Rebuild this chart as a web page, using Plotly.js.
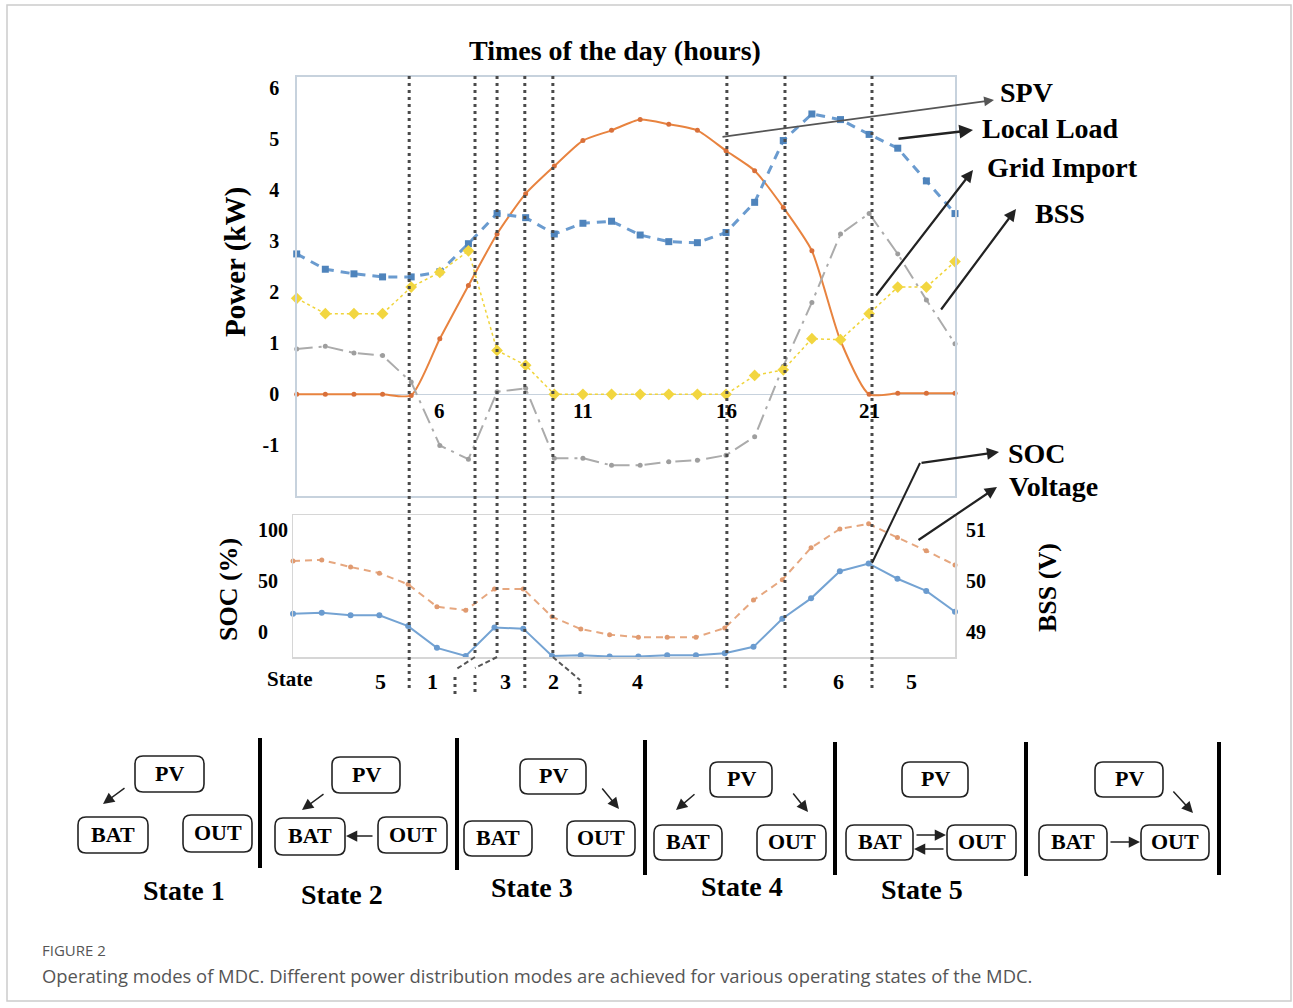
<!DOCTYPE html>
<html>
<head>
<meta charset="utf-8">
<script src="https://cdn.plot.ly/plotly-3.0.1.min.js"></script>
<style>html,body{margin:0;padding:0;background:#fff;}#chart{width:1293px;height:1008px;}</style>
</head>
<body>
<div id="chart"></div>
<script>
// ---------------- DATA ----------------
const hours = [1,2,3,4,5,6,7,8,9,10,11,12,13,14,15,16,17,18,19,20,21,22,23,24];
const spv = [0,0,0,0,-0.02,1.09,2.13,3.14,3.93,4.47,4.97,5.17,5.38,5.29,5.17,4.77,4.38,3.66,2.81,1.05,0,0.02,0.02,0.02];
const localLoad = [2.75,2.45,2.36,2.30,2.30,2.40,2.95,3.54,3.46,3.14,3.35,3.39,3.12,2.99,2.97,3.17,3.76,4.97,5.49,5.38,5.09,4.82,4.18,3.54];
const gridImport = [0.89,0.94,0.81,0.76,0.24,-1.0,-1.27,0.05,0.12,-1.25,-1.25,-1.39,-1.39,-1.32,-1.29,-1.19,-0.83,0.55,1.8,3.14,3.54,2.75,1.85,0.99];
const bss = [1.88,1.58,1.58,1.58,2.10,2.39,2.81,0.86,0.57,0,0,0,0,0,0,0,0.37,0.48,1.09,1.07,1.58,2.10,2.10,2.60];
const soc = [17.6,18.6,16,16,5.4,-16,-24,3.9,2.9,-24,-23.3,-24.5,-24.5,-23.3,-23.3,-21.3,-15,12.7,32.7,59.4,67,52,40,19.6];
const voltage = [50.39,50.41,50.27,50.15,49.93,49.49,49.42,49.84,49.84,49.29,49.05,48.94,48.89,48.89,48.89,49.07,49.62,50.02,50.65,51.02,51.12,50.85,50.59,50.31];

const powerTicks = [-1,0,1,2,3,4,5,6];
const hourLabels = [6,11,16,21];
const socTicks = [0,50,100];
const voltTicks = [49,50,51];
const stateBoundaries = [4.93,7.23,8.0,8.97,9.95,16.03,18.06,21.1];
const stateSequence = ['5','1','3','2','4','6','5'];
const seriesNames = ['SPV','Local Load','Grid Import','BSS'];
const lowerNames = ['SOC','Voltage'];

// ---------------- LAYOUT HELPERS ----------------
const W = 1293, H = 1008;
const px = x => x / W;
const py = y => 1 - y / H;
const X0 = 296.7, X1 = 955;
const hx = h => X0 + (h - 1) * (X1 - X0) / 23;   // hour -> pixel (same scale as axis)
const serif = 'Liberation Serif, Times New Roman, serif';
const bold = (size, color) => ({family: serif, size: size, color: color || '#000', weight: 'bold'});

const traces = [
  {x: hours, y: spv, name: seriesNames[0], xaxis: 'x', yaxis: 'y', mode: 'lines+markers', cliponaxis: false,
   line: {color: '#E8833F', width: 2, shape: 'spline', smoothing: 0.6}, marker: {size: 5, color: '#D9703A'}},
  {x: hours, y: localLoad, name: seriesNames[1], xaxis: 'x', yaxis: 'y', mode: 'lines+markers', cliponaxis: false,
   line: {color: '#6A9BCF', width: 3, dash: '9px,7px'}, marker: {symbol: 'square', size: 7, color: '#4F84BC'}},
  {x: hours, y: gridImport, name: seriesNames[2], xaxis: 'x', yaxis: 'y', mode: 'lines+markers', cliponaxis: false,
   line: {color: '#ABABAB', width: 2, dash: '16px,6px,3px,6px'}, marker: {size: 5, color: '#9E9E9E'}},
  {x: hours, y: bss, name: seriesNames[3], xaxis: 'x', yaxis: 'y', mode: 'lines+markers', cliponaxis: false,
   line: {color: '#F0D43A', width: 1.5, dash: 'dot'}, marker: {symbol: 'diamond', size: 9, color: '#F2D640'}},
  {x: hours, y: soc, name: lowerNames[0], xaxis: 'x2', yaxis: 'y2', mode: 'lines+markers', cliponaxis: false,
   line: {color: '#74A3D3', width: 2}, marker: {size: 6, color: '#6A9BCF'}},
  {x: hours, y: voltage, name: lowerNames[1], xaxis: 'x2', yaxis: 'y3', mode: 'lines+markers', cliponaxis: false,
   line: {color: '#E6A77F', width: 2, dash: '7px,5px'}, marker: {size: 5, color: '#E09A70'}}
];

const shapes = [];
const annotations = [];

// outer border
shapes.push({type: 'rect', xref: 'paper', yref: 'paper', x0: px(7), x1: px(1291), y0: py(5), y1: py(1001),
  line: {color: '#cccccc', width: 1.5}});

// state boundary dotted lines
const dotted = {color: '#4a4a4a', width: 3, dash: '3px,4px'};
const slanted = {7.23: [455, 670, 677], 8.0: [475, 668, 675], 9.95: [580, 680, 684]};
stateBoundaries.forEach(h => {
  const x = px(hx(h));
  if (slanted[h]) {
    const s = slanted[h];
    shapes.push({type: 'line', xref: 'paper', yref: 'paper', x0: x, x1: x, y0: py(76), y1: py(657), line: dotted});
    shapes.push({type: 'line', xref: 'paper', yref: 'paper', x0: x, x1: px(s[0]), y0: py(657), y1: py(s[1]),
      line: {color: '#555', width: 2, dash: '5px,3px'}});
    shapes.push({type: 'line', xref: 'paper', yref: 'paper', x0: px(s[0]), x1: px(s[0]), y0: py(s[2]), y1: py(696), line: dotted});
  } else {
    shapes.push({type: 'line', xref: 'paper', yref: 'paper', x0: x, x1: x, y0: py(76), y1: py(692), line: dotted});
  }
});

// hour labels on top chart
hourLabels.forEach(h => annotations.push({x: h, y: -0.33, xref: 'x', yref: 'y', text: String(h), showarrow: false,
  font: bold(21), xanchor: 'center', yanchor: 'middle'}));

// SOC tick labels (left aligned as in original)
socTicks.forEach(t => annotations.push({x: px(256), xref: 'paper', y: t, yref: 'y2', text: String(t), showarrow: false,
  xanchor: 'left', yanchor: 'middle', font: bold(20)}));

// titles
annotations.push({x: px(615), y: py(50), xref: 'paper', yref: 'paper', text: 'Times of the day (hours)', showarrow: false, font: bold(28)});
annotations.push({x: px(236), y: py(262), xref: 'paper', yref: 'paper', text: 'Power (kW)', textangle: -90, showarrow: false, font: bold(29)});
annotations.push({x: px(228), y: py(590), xref: 'paper', yref: 'paper', text: 'SOC (%)', textangle: -90, showarrow: false, font: bold(26)});
annotations.push({x: px(1047), y: py(588), xref: 'paper', yref: 'paper', text: 'BSS (V)', textangle: -90, showarrow: false, font: bold(26)});

// series labels with arrows
const lab = (text, x, y) => annotations.push({x: px(x), y: py(y), xref: 'paper', yref: 'paper', text: text,
  showarrow: false, xanchor: 'left', yanchor: 'middle', font: bold(28)});
lab(seriesNames[0], 998, 92);
lab(seriesNames[1], 980, 128);
lab(seriesNames[2], 985, 168);
lab(seriesNames[3], 1033, 213);
lab(lowerNames[0], 1006, 454);
lab(lowerNames[1], 1007, 486);

const arrow = (tx, ty, fx, fy, w, col, size) => annotations.push({x: px(tx), y: py(ty), xref: 'paper', yref: 'paper',
  ax: fx - tx, ay: fy - ty, axref: 'pixel', ayref: 'pixel', text: '', showarrow: true, arrowhead: 2,
  arrowsize: size || 1.1, arrowwidth: w, arrowcolor: col || '#222'});
arrow(994, 100, 721, 137, 1.8, '#555');
arrow(973, 130, 897, 139, 2.5, '#222');
arrow(973, 170, 875, 297, 2.2, '#222');
arrow(1016, 209, 940, 311, 2.2, '#222');
shapes.push({type: 'line', xref: 'paper', yref: 'paper', x0: px(872), y0: py(563), x1: px(920), y1: py(463), line: {color: '#222', width: 2}});
arrow(999, 452, 920, 463, 2.2, '#222');
arrow(997, 487, 917, 541, 2.2, '#222');

// state row labels
annotations.push({x: px(290), y: py(679), xref: 'paper', yref: 'paper', text: 'State', showarrow: false, font: bold(21)});
const stateLabelX = [380, 432, 505, 553, 637, 838, 911];
stateSequence.forEach((s, i) => annotations.push({x: px(stateLabelX[i]), y: py(681), xref: 'paper', yref: 'paper',
  text: s, showarrow: false, font: bold(22)}));

// ---------------- STATE DIAGRAMS ----------------
function rbox(x0, y0, x1, y1, r) {
  const p = (x, y) => px(x) + ' ' + py(y);
  return 'M ' + p(x0 + r, y0) + ' L ' + p(x1 - r, y0) + ' Q ' + p(x1, y0) + ' ' + p(x1, y0 + r) +
    ' L ' + p(x1, y1 - r) + ' Q ' + p(x1, y1) + ' ' + p(x1 - r, y1) +
    ' L ' + p(x0 + r, y1) + ' Q ' + p(x0, y1) + ' ' + p(x0, y1 - r) +
    ' L ' + p(x0, y0 + r) + ' Q ' + p(x0, y0) + ' ' + p(x0 + r, y0) + ' Z';
}
const diag = [
  {pv: [135, 756, 204, 792], bat: [78, 817, 148, 853], out: [183, 815, 252, 852], label: 'State 1', lx: 184, ly: 890,
   arrows: [[103, 804, 126, 787]]},
  {pv: [332, 757, 400, 793], bat: [275, 818, 345, 855], out: [378, 817, 447, 853], label: 'State 2', lx: 342, ly: 894,
   arrows: [[302, 810, 325, 793], [346, 836, 374, 836]]},
  {pv: [520, 759, 586, 794], bat: [464, 821, 532, 856], out: [567, 821, 635, 856], label: 'State 3', lx: 532, ly: 887,
   arrows: [[619, 809, 601, 787]]},
  {pv: [710, 762, 772, 797], bat: [654, 825, 722, 860], out: [757, 825, 826, 860], label: 'State 4', lx: 742, ly: 886,
   arrows: [[676, 810, 696, 793], [808, 812, 792, 792]]},
  {pv: [902, 762, 968, 797], bat: [846, 825, 913, 860], out: [947, 825, 1016, 860], label: 'State 5', lx: 922, ly: 889,
   arrows: [[946, 835, 915, 835], [914, 849, 945, 849]]},
  {pv: [1095, 762, 1163, 797], bat: [1039, 825, 1107, 860], out: [1141, 825, 1209, 860], label: '', lx: 0, ly: 0,
   arrows: [[1193, 813, 1172, 790], [1140, 842, 1109, 842]]}
];
const bars = [[260, 738, 868], [457, 738, 870], [645, 740, 875], [835, 742, 875], [1026, 742, 876], [1219, 742, 875]];
bars.forEach(b => shapes.push({type: 'line', xref: 'paper', yref: 'paper', x0: px(b[0]), x1: px(b[0]), y0: py(b[1]), y1: py(b[2]),
  line: {color: '#000', width: 4}}));
diag.forEach(d => {
  [['pv', 'PV'], ['bat', 'BAT'], ['out', 'OUT']].forEach(k => {
    const b = d[k[0]];
    shapes.push({type: 'path', xref: 'paper', yref: 'paper', path: rbox(b[0], b[1], b[2], b[3], 8), line: {color: '#222', width: 1.6}});
    annotations.push({x: px((b[0] + b[2]) / 2), y: py((b[1] + b[3]) / 2 - 1), xref: 'paper', yref: 'paper', text: k[1],
      showarrow: false, font: bold(22)});
  });
  d.arrows.forEach(a => arrow(a[0], a[1], a[2], a[3], 1.5, '#222', 1.5));
  if (d.label) annotations.push({x: px(d.lx), y: py(d.ly), xref: 'paper', yref: 'paper', text: d.label, showarrow: false, font: bold(28)});
});

// caption
annotations.push({x: px(40), y: py(950), xref: 'paper', yref: 'paper', xanchor: 'left', text: 'FIGURE 2', showarrow: false,
  font: {family: 'Open Sans, Noto Sans, sans-serif', size: 15, color: '#555'}});
annotations.push({x: px(40), y: py(975), xref: 'paper', yref: 'paper', xanchor: 'left',
  text: 'Operating modes of MDC. Different power distribution modes are achieved for various operating states of the MDC.',
  showarrow: false, font: {family: 'Open Sans, Noto Sans, sans-serif', size: 18.4, color: '#555'}});

annotations.forEach(a => {
  if (!a.xanchor) a.xanchor = 'center';
  if (!a.yanchor) a.yanchor = 'middle';
});

const frameBlue = '#C7D2DD';
const layout = {
  width: W, height: H, margin: {l: 0, r: 0, t: 0, b: 0}, showlegend: false,
  paper_bgcolor: '#fff', plot_bgcolor: 'rgba(0,0,0,0)',
  font: {family: serif, color: '#000'},
  xaxis: {domain: [px(X0), px(X1)], range: [1, 24], anchor: 'y', showticklabels: false, showgrid: false, zeroline: false,
    showline: true, mirror: true, linecolor: frameBlue, linewidth: 1.5, fixedrange: true},
  yaxis: {domain: [py(496), py(76.7)], range: [-1.99, 6.22], anchor: 'x', tickvals: powerTicks, ticktext: powerTicks.map(String),
    tickfont: bold(20), ticks: '', ticklabelstandoff: 12, showgrid: false, zeroline: true, zerolinecolor: frameBlue, zerolinewidth: 1.5,
    showline: true, mirror: true, linecolor: frameBlue, linewidth: 1.5, fixedrange: true},
  xaxis2: {domain: [px(293), px(955)], range: [1, 24], anchor: 'y2', showticklabels: false, showgrid: false, zeroline: false,
    showline: true, mirror: true, linecolor: '#D6D6D6', linewidth: 1.5, fixedrange: true},
  yaxis2: {domain: [py(657), py(515)], range: [-25, 114.7], anchor: 'x2', showticklabels: false, ticks: '', showgrid: false,
    zeroline: false, showline: true, mirror: true, linecolor: '#D6D6D6', linewidth: 1.5, fixedrange: true},
  yaxis3: {overlaying: 'y2', side: 'right', anchor: 'x2', range: [48.5, 51.294], tickvals: voltTicks, ticktext: voltTicks.map(String),
    tickfont: bold(20), ticks: '', ticklabelstandoff: 10, showgrid: false, zeroline: false, showline: false, fixedrange: true},
  shapes: shapes,
  annotations: annotations
};

Plotly.newPlot('chart', traces, layout, {displayModeBar: false, staticPlot: true});
</script>
</body>
</html>
